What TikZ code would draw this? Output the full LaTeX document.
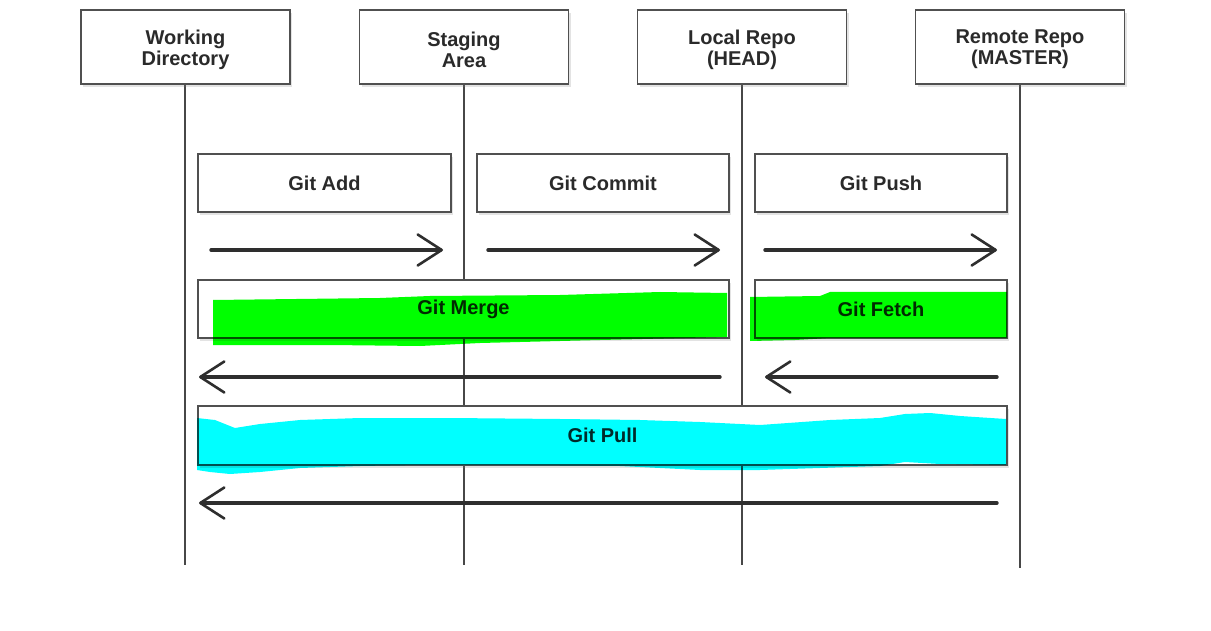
\documentclass[tikz,border=0pt]{standalone}
\usepackage{fontspec}
\setmainfont{Liberation Sans}
\usetikzlibrary{arrows.meta,shadows,calc}
\definecolor{txt}{HTML}{2A2A2A}
\definecolor{edge}{HTML}{505050}
\definecolor{hlgreen}{RGB}{0,255,0}
\definecolor{hlcyan}{RGB}{0,255,255}
\tikzset{
  hdr/.style={draw=edge, line width=1.3pt, fill=white, minimum width=209pt, minimum height=74pt,
    inner sep=0pt, drop shadow={opacity=0.22, shadow xshift=2pt, shadow yshift=-3pt}},
  htxt/.style={align=center, font=\fontsize{20}{21}\selectfont\bfseries, text=txt, inner sep=0pt, yshift=-2.5pt},
  act/.style={draw=edge, line width=1.3pt, fill=white, minimum height=58pt,
    font=\fontsize{20}{20}\selectfont\bfseries, text=txt, inner sep=0pt,
    drop shadow={opacity=0.22, shadow xshift=2pt, shadow yshift=-3pt}},
  life/.style={draw=black!72, line width=1.4pt},
  arr/.style={draw=black!82, line width=3.4pt, line cap=round,
    -{Straight Barb[length=24pt,width=31pt,line width=2.6pt,round]}},
  hl/.style={blend mode=multiply}
}
\begin{document}
\begin{tikzpicture}[x=1pt,y=-1pt]
\fill[white] (0,0) rectangle (1211,631);
\useasboundingbox (0,0) rectangle (1211,631);
% lifelines
\coordinate (wdb) at (185,565);
\coordinate (sab) at (464,565);
\coordinate (lrb) at (742,565);
\coordinate (rrb) at (1020,568);
\draw[life] (185,84) -- (wdb);
\draw[life] (464,84) -- (sab);
\draw[life] (742,84) -- (lrb);
\draw[life] (1020,84) -- (rrb);
% headers
\node[hdr] (wd) at (185.5,47) {};
\node[hdr] (sa) at (464,47) {};
\node[hdr] (lr) at (742,47) {};
\node[hdr] (rr) at (1020,47) {};
\node[htxt] (wdt) at (wd.center) {Working\\Directory};
\node[htxt] (sat) at (sa.center) {Staging\\Area};
\node[htxt] (lrt) at (lr.center) {Local Repo\\(HEAD)};
\node[htxt] (rrt) at (rr.center) {Remote Repo\\(MASTER)};
% action boxes
\node[act, minimum width=253pt] (add) at (324.5,183) {Git Add};
\node[act, minimum width=252pt] (commit) at (603,183) {Git Commit};
\node[act, minimum width=252pt] (push) at (881,183) {Git Push};
\node[act, minimum width=531pt] (merge) at (463.5,309) {Git Merge};
\node[act, minimum width=252pt] (fetch) at (881,309) {Git Fetch};
\node[act, minimum width=809pt, minimum height=59pt] (pull) at (602.5,435.5) {Git Pull};
% highlights
\fill[hlgreen, hl] (213,300) -- (380,298) -- (430,296) -- (560,295) -- (660,292) -- (727,293)
  -- (727,337) -- (600,340) -- (480,343) -- (420,346) -- (330,345) -- (213,345) -- cycle;
\fill[hlgreen, hl] (750,297) -- (820,296) -- (830,292) -- (1007,292) -- (1007,338)
  -- (830,338) -- (795,340) -- (750,341) -- cycle;
\fill[hlcyan, hl] (197,418) -- (215,420) -- (235,428) -- (260,424) -- (300,420) -- (360,418)
  -- (450,418) -- (560,419) -- (640,420) -- (700,422) -- (760,425) -- (830,420) -- (880,418)
  -- (905,414) -- (930,413) -- (960,416) -- (1006,419)
  -- (1006,465) -- (940,464) -- (905,462) -- (880,466) -- (820,468) -- (760,470) -- (700,470)
  -- (620,466) -- (500,465) -- (420,465) -- (360,466) -- (300,468) -- (260,472) -- (230,474)
  -- (210,472) -- (197,470) -- cycle;
% forward arrows
\coordinate (f1s) at (211,250); \coordinate (f1e) at (443,250);
\coordinate (f2s) at (488,250); \coordinate (f2e) at (720,250);
\coordinate (f3s) at (765,250); \coordinate (f3e) at (997,250);
\draw[arr] (f1s) -- (f1e);
\draw[arr] (f2s) -- (f2e);
\draw[arr] (f3s) -- (f3e);
% backward arrows
\coordinate (b1s) at (720,377); \coordinate (b1e) at (199,377);
\coordinate (b2s) at (997,377); \coordinate (b2e) at (765,377);
\coordinate (b3s) at (997,503); \coordinate (b3e) at (199,503);
\draw[arr] (b1s) -- (b1e);
\draw[arr] (b2s) -- (b2e);
\draw[arr] (b3s) -- (b3e);
\end{tikzpicture}
\end{document}
